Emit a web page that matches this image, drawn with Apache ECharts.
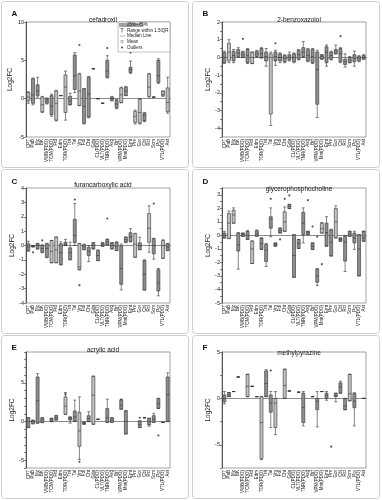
<!DOCTYPE html>
<html><head><meta charset="utf-8">
<script src="https://cdn.jsdelivr.net/npm/echarts@6/dist/echarts.min.js"></script>
<style>html,body{margin:0;padding:0;background:#fff}#c{width:382px;height:500px}</style>
</head><body><div id="c"></div>
<script>
const categories = ["CPT","PaB","Mz","BK","VWB(PDO)","TCM(PDO)","Ftd","Edm","TOR(PDO)","Tra","Tal","Vm","Fdl","Cht","Gda","CL(PDO)","VLT(PDO)","TNR(PDO)","Asg","Brf","VPM(PDO)","Mnt(PDO)","Emt","Prv","Gor","Cbl","Rcl","Scm","Pcr","VTL(PDO)","Ast"];

// [min, Q1, median, Q3, max] per category, null = no data
const boxA = [[-0.6,-0.3,0.2,0.8,0.9],[-0.8,-0.6,0.5,2.6,2.7],[0.2,0.4,1.0,1.8,2.8],[-1.8,-1.7,-0.8,0.2,0.3],[-0.7,-0.6,-0.3,-0.05,0.1],[-2.3,-2.1,-1.0,0.4,0.6],[-2.9,-2.8,-0.6,1.0,1.1],[0.4,0.4,0.4,0.4,0.4],[-2.8,-1.8,1.5,3.1,3.6],[-0.8,-0.8,-0.3,0.3,0.7],[0.8,1.2,3.0,5.7,6.0],[-0.9,-0.9,1.0,3.2,3.3],[-3.3,-3.2,-1.0,1.3,1.3],[-2.5,-2.4,0.6,2.8,2.9],[3.9,3.9,3.9,3.9,3.9],[0,0,0,0,0],[-0.6,-0.6,-0.6,-0.6,-0.6],[2.7,2.8,3.6,5.0,5.6],[-0.3,-0.2,0.0,0.2,0.3],[-1.3,-1.2,-0.7,-0.2,-0.1],[-0.55,-0.5,0.5,1.4,1.5],[0.4,0.4,1.0,1.5,1.6],[3.3,3.4,3.8,4.1,4.9],[-3.3,-3.1,-2.3,-1.65,-1.5],[-3.3,-3.2,-1.8,-0.1,0.0],[-3.0,-2.9,-2.2,-1.9,-1.8],[0.2,0.3,1.5,3.2,3.3],[0.2,0.2,0.2,0.2,0.2],[2.0,2.1,3.0,5.0,5.2],[0.3,0.4,0.6,1.0,1.0],[-1.9,-1.7,-0.5,1.4,2.8]];
const outA = [[11,7.0],[17,6.6],[22,6.0]];

const boxB = [[-0.35,-0.3,0.0,0.28,0.35],[-0.3,-0.2,0.3,0.8,1.0],[-0.3,-0.2,0.1,0.35,0.45],[0.0,0.05,0.25,0.45,0.55],[0.0,0.0,0.15,0.3,0.35],[-0.35,-0.3,0.1,0.45,0.5],[-0.35,-0.35,0.0,0.3,0.3],[0.0,0.05,0.2,0.35,0.4],[-0.05,0.0,0.2,0.5,0.55],[-0.5,-0.2,0.05,0.3,0.5],[-3.85,-3.2,0.0,0.2,0.3],[-0.45,-0.2,0.05,0.3,0.4],[-0.3,-0.2,0.0,0.2,0.25],[-0.3,-0.25,-0.05,0.1,0.15],[-0.2,-0.15,0.0,0.15,0.3],[-0.3,-0.25,0.0,0.2,0.25],[-0.15,-0.1,0.15,0.4,0.45],[0.0,0.05,0.3,0.55,0.9],[-0.25,-0.2,0.1,0.45,0.5],[-0.35,-0.3,0.05,0.45,0.5],[-3.4,-2.65,-0.7,0.3,0.4],[-0.1,-0.1,0.05,0.15,0.15],[-0.5,-0.3,0.3,0.6,0.7],[-0.15,-0.1,0.1,0.3,0.35],[0.2,0.2,0.35,0.45,0.7],[-0.3,-0.25,0.2,0.5,0.55],[-0.55,-0.4,-0.25,-0.1,0.2],[-0.3,-0.3,-0.15,0.0,0.05],[-0.5,-0.25,-0.05,0.15,0.35],[-0.25,-0.2,-0.05,0.05,0.1],[-0.1,-0.1,0.0,0.1,0.15]];
const outB = [[4,1.05],[11,0.8],[25,1.2]];

const boxC = [[-0.4,-0.35,-0.1,0.12,0.3],[-0.1,-0.1,-0.07,0.0,0.0],[-0.25,-0.23,0.0,0.12,0.15],[-0.5,-0.47,-0.2,0.0,0.05],[-0.85,-0.82,-0.2,0.12,0.15],[-1.2,-1.2,-0.4,0.35,0.35],[-1.2,-1.2,-0.3,0.58,0.6],[-1.35,-1.33,-0.5,0.12,0.25],[0.0,0.0,0.1,0.23,0.42],[-1.0,-0.98,-0.5,-0.16,0.23],[0.0,0.19,0.7,1.82,2.92],[-1.7,-1.68,-1.5,0.12,0.15],[-0.3,-0.28,-0.1,0.05,0.1],[-1.12,-0.7,-0.4,-0.12,0.0],[-0.25,-0.23,0.0,0.19,0.2],[-1.05,-1.05,-0.7,-0.35,-0.3],[-0.05,-0.05,0.05,0.19,0.2],[0.05,0.05,0.25,0.42,0.45],[-0.25,-0.23,0.0,0.19,0.2],[-0.35,-0.35,-0.05,0.23,0.25],[-3.09,-2.7,-1.6,-0.05,0.1],[0.2,0.23,0.4,0.58,0.6],[0.25,0.28,0.6,0.89,1.17],[-0.82,-0.82,0.1,0.82,0.85],[-0.3,-0.28,0.0,0.19,0.58],[-3.1,-3.09,-2.0,-1.05,-1.0],[-0.47,0.23,1.2,2.22,2.76],[-0.95,-0.58,0.0,0.47,0.5],[-3.5,-3.16,-2.6,-1.68,-1.6],[-0.9,-0.89,0.0,0.35,0.4],[-0.35,-0.35,-0.1,0.12,0.15]];
const outC = [[1,-0.47],[3,0.35],[10,3.2],[11,-2.76],[17,1.87],[27,2.92]];

const boxD = [[-0.2,-0.19,0.0,0.17,0.3],[-0.24,-0.24,0.9,1.62,1.8],[0.9,0.9,1.5,1.86,2.03],[-2.5,-1.16,-0.7,0.17,0.2],[-0.07,-0.07,0.05,0.17,0.17],[-0.3,-0.3,0.0,0.3,0.35],[-2.08,-2.08,-1.0,-0.44,-0.4],[-0.07,-0.07,0.1,0.34,0.4],[-1.04,-1.04,-0.6,-0.19,-0.19],[-2.3,-1.94,-1.1,-0.68,-0.6],[-0.1,0.53,1.2,1.38,2.03],[-0.8,-0.8,-0.7,-0.56,-0.56],[0.17,0.17,0.35,0.53,0.55],[0.3,0.3,1.0,1.74,2.1],[1.98,1.98,2.15,2.28,2.3],[-3.1,-3.1,-1.5,0.05,0.05],[-0.97,-0.97,-0.6,-0.31,-0.3],[-0.56,0.05,0.9,1.7,2.03],[0.05,0.05,0.2,0.3,0.3],[-1.04,-1.04,-0.8,-0.56,-0.56],[-3.7,-3.46,-3.0,-2.5,-2.45],[0.17,0.17,0.5,0.9,0.95],[-0.8,-0.8,0.2,0.9,1.38],[-1.53,-1.53,-0.5,0.41,0.45],[-0.19,-0.19,1.0,1.98,2.18],[-0.44,-0.44,-0.3,-0.19,-0.19],[-2.67,-1.9,-0.5,-0.07,0.0],[-0.07,-0.07,0.1,0.3,0.3],[-1.04,-0.56,-0.2,0.17,0.3],[-3.0,-3.0,-1.0,0.05,0.05],[-0.44,-0.44,-0.2,0.3,0.3]];
const outD = [[10,2.7],[12,-0.3],[13,2.7],[14,2.95],[18,2.6],[19,0.65],[20,-0.1],[21,-2.13]];

const boxE = [[-0.77,-0.77,0.0,0.5,0.5],[-0.3,-0.26,0.0,0.17,0.2],[-0.2,-0.2,2.7,5.77,6.2],[-0.13,-0.13,0.2,0.5,0.5],null,[0.0,0.0,0.2,0.43,0.43],[0.2,0.2,0.5,0.77,0.8],null,[0.94,0.94,2.0,3.2,3.76],[-0.2,0.2,0.4,0.6,0.6],[0.0,0.09,0.6,1.37,2.78],[-4.9,-3.2,-1.2,1.2,3.2],[-0.34,-0.34,-0.2,-0.1,-0.1],[0.0,0.0,0.4,0.77,1.28],[-0.34,-0.34,3.4,5.85,5.9],[0.3,0.3,0.3,0.3,0.3],null,[-0.1,-0.1,0.5,1.7,2.9],[-0.1,-0.1,0.2,0.5,0.5],null,[1.6,1.6,2.1,2.8,2.9],[-1.6,-1.6,0.0,1.4,1.4],null,null,[-0.77,-0.77,-0.4,0.09,0.1],[0.5,0.5,0.5,0.5,0.5],[-0.6,-0.43,0.0,0.43,0.45],[-0.09,-0.09,0.3,0.77,1.07],[1.7,1.7,2.3,3.0,3.0],[-0.1,-0.1,-0.1,-0.1,-0.1],[0.0,0.0,3.5,5.77,6.3]];
const outE = [[8,3.55],[11,-5.2],[20,2.8],[24,0.5],[28,-1.8]];

const boxF = [[-0.6,-0.37,0.0,0.37,0.74],[0.19,0.19,0.4,0.63,0.63],[0.74,0.74,0.74,0.74,0.74],[2.3,2.3,2.3,2.3,2.3],null,[0.19,0.19,1.3,2.6,2.6],[1.3,1.3,1.3,1.3,1.3],[0.19,0.19,0.19,0.19,0.19],[-6.6,-6.5,-2.6,0.19,0.19],[0.19,0.19,1.6,2.96,3.1],[-3.15,-1.48,-0.5,0.37,0.74],[-3.9,-3.15,-0.5,0.0,0.74],null,[0.0,0.0,1.4,3.15,3.15],[0.8,0.8,0.8,0.8,0.8],null,[0.67,0.67,0.67,0.67,0.67],[-2.96,-2.6,-1.0,0.56,0.74],null,[0.19,0.19,0.19,0.19,0.19],[-3.07,-1.22,-0.3,0.0,0.74],[0.74,0.74,0.74,0.74,0.74],[-0.2,0.0,0.3,0.56,0.74],null,[-0.37,0.19,0.3,0.56,0.56],[0.56,0.56,1.2,1.67,1.85],[-1.22,-1.22,-0.8,0.0,0.0],[-0.26,-0.26,0.5,2.6,2.6],[-2.96,-1.0,-0.3,0.56,0.6],null,[0.0,0.0,0.0,0.0,0.0]];
const outF = [[10,3.0],[23,-5.2]];

const titles = ["cefadroxil","2-benzoxazolol","furancarboxylic acid","glycerophosphocholine","acrylic acid","methylpyrazine"];
const letters = ["A","B","C","D","E","F"];

// styling (not data)
const shades = {
  A:"LDDLDDLDLDDLDDDDDDDDLDDLLDLDDLL",
  B:"DLDDDDLDDDLDDDDDDDDDDDDDDDDDDDD",
  C:"DDDDDLLDDDDLDDDDDDDDDDDLDDLDDLD",
  D:"DLLDDDLDDDDDDLDDDDDDDLDDLDDDDDD",
  E:"DDDDDDDDLDDLDDLDDDDDDDDDDDDDDDD",
  F:"DDDDDLDDLDDLDLDDDDDDDDDDDDDLDDD"
};
const shadeColor = {D:'#8e8e8e', L:'#c2c2c2'};
const FONT = 'Liberation Sans';

const panels = [
  {box:boxA, out:outA, shade:shades.A, y:{min:-5,max:10,interval:5}, step:5},
  {box:boxB, out:outB, shade:shades.B, y:{min:-4.5,max:2,interval:0.5}, step:1},
  {box:boxC, out:outC, shade:shades.C, y:{min:-4,max:4,interval:1}, step:1},
  {box:boxD, out:outD, shade:shades.D, y:{min:-5,max:3.5,interval:0.5}, step:1},
  {box:boxE, out:outE, shade:shades.E, y:{min:-6,max:9,interval:1}, step:5},
  {box:boxF, out:outF, shade:shades.F, y:{min:-7.5,max:5,interval:2.5}, step:5}
];
const gridPos = [[26,22,115],[222,22,115],[26,188,115],[222,188,115],[26,352,116],[222,352,116]];
const framePos = [[1.5,1.5,187,166],[192.5,1.5,187,166],[1.5,169.5,187,164],[192.5,169.5,187,164],[1.5,335.5,187,163],[192.5,335.5,187,163]];
const titleY = [12,12,177,181,342,345];

const grid=[], xAxis=[], yAxis=[], series=[], title=[], graphic=[];
panels.forEach((p,i)=>{
  const [gl,gt,gh] = gridPos[i];
  grid.push({left:gl, top:gt, width:144, height:gh, show:true, borderColor:'#8a8a8a', borderWidth:0.8, backgroundColor:'transparent'});
  xAxis.push({type:'category', gridIndex:i, data:categories, boundaryGap:true,
    axisLine:{lineStyle:{color:'#333', width:0.8}},
    axisTick:{alignWithLabel:true, length:2, lineStyle:{color:'#333', width:0.6}},
    axisLabel:{interval:0, rotate:90, fontSize:4.5, margin:2, color:'#222', fontFamily:FONT}, splitLine:{show:false}});
  yAxis.push({type:'value', gridIndex:i, min:p.y.min, max:p.y.max, interval:p.y.interval,
    name:'Log2FC', nameLocation:'middle', nameGap:10, nameTextStyle:{fontSize:6.5, color:'#222', fontFamily:FONT},
    axisLine:{show:true, lineStyle:{color:'#333', width:0.8}},
    axisTick:{show:true, length:2, lineStyle:{color:'#333', width:0.6}},
    axisLabel:{fontSize:5.5, margin:2, color:'#222', fontFamily:FONT,
      formatter:v=>{ const r=Math.round(v); return (Math.abs(v-r)<1e-6 && r % p.step===0) ? String(r) : ''; }},
    splitLine:{show:false}});
  series.push({type:'scatter', xAxisIndex:i, yAxisIndex:i, data:p.out, symbol:'circle', symbolSize:2.2,
    itemStyle:{color:'#333'}, z:1, silent:true,
    markLine:{silent:true, symbol:'none', label:{show:false}, lineStyle:{color:'#999', width:0.8, type:'solid'}, data:[{yAxis:0}], z:1}});
  series.push({type:'boxplot', xAxisIndex:i, yAxisIndex:i, boxWidth:[3,3], z:3, silent:true,
    itemStyle:{borderColor:'#333', borderWidth:0.6},
    data:p.box.map((b,j)=> b ? {value:b, itemStyle:{color:shadeColor[p.shade[j]], borderColor:'#333', borderWidth:0.6}} : {value:['-','-','-','-','-']})});
  title.push({text:letters[i], left:framePos[i][0]+5, top:framePos[i][1]+3, textStyle:{fontSize:8, fontWeight:'bold', color:'#111', fontFamily:FONT}});
  title.push({text:titles[i], left:gl+72, top:titleY[i], textAlign:'center', textStyle:{fontSize:6.5, fontWeight:'normal', color:'#111', fontFamily:FONT}});
  const f = framePos[i];
  graphic.push({type:'rect', shape:{x:f[0], y:f[1], width:f[2], height:f[3], r:3}, style:{fill:'none', stroke:'#cfcfcf', lineWidth:1}, z:-10, silent:true});
});

// legend box in panel A
const lx=118, ly=22;
const lt = (t,y)=>({type:'text', x:lx+9, y:y, style:{text:t, fontSize:4.5, fill:'#222', fontFamily:FONT, verticalAlign:'middle'}, z:101});
graphic.push({type:'group', z:100, children:[
  {type:'rect', shape:{x:lx, y:ly, width:52, height:30}, style:{fill:'#fff', stroke:'#999', lineWidth:0.6}, z:100},
  {type:'rect', shape:{x:lx+1, y:ly+1, width:24, height:4}, style:{fill:'#a0a0a0'}, z:101},
  lt('25%~75%', ly+3),
  {type:'line', shape:{x1:lx+4, y1:ly+6.5, x2:lx+4, y2:ly+10.5}, style:{stroke:'#333', lineWidth:0.6}, z:101},
  {type:'line', shape:{x1:lx+2.5, y1:ly+6.5, x2:lx+5.5, y2:ly+6.5}, style:{stroke:'#333', lineWidth:0.6}, z:101},
  lt('Range within 1.5IQR', ly+8.5),
  {type:'line', shape:{x1:lx+2, y1:ly+14, x2:lx+7, y2:ly+14}, style:{stroke:'#888', lineWidth:0.6}, z:101},
  lt('Median Line', ly+14),
  {type:'rect', shape:{x:lx+3, y:ly+18.5, width:2, height:2}, style:{fill:'none', stroke:'#666', lineWidth:0.5}, z:101},
  lt('Mean', ly+19.5),
  {type:'circle', shape:{cx:lx+4, cy:ly+25.5, r:0.9}, style:{fill:'#333'}, z:101},
  lt('Outliers', ly+25.5)
]});

const chart = echarts.init(document.getElementById('c'), null, {renderer:'canvas'});
chart.setOption({animation:false, backgroundColor:'#fff', grid, xAxis, yAxis, series, title, graphic});
</script>
</body></html>
